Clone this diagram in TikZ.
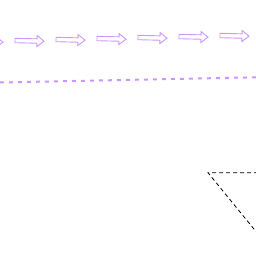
\documentclass[tikz,border=0pt]{standalone}
\definecolor{lav}{RGB}{204,150,255}
\begin{document}
\begin{tikzpicture}[x=1pt,y=-1pt,
  hollowarrow/.style={draw=lav,line width=0.9pt,line join=miter},
  lavdash/.style={draw=lav,line width=2pt,dash pattern=on 4pt off 5pt},
  blackdash/.style={draw=black,line width=0.8pt,dash pattern=on 4pt off 3pt}]
\useasboundingbox (0,0) rectangle (256,256);
\clip (0,0) rectangle (256,256);
\foreach \k in {0,...,6}{
  \begin{scope}[shift={(-26+41*\k,41.5-\k)},rotate=-1.4]
    \draw[hollowarrow] (0,-2.2) -- (22,-2.2) -- (22,-5.5) -- (29,0) -- (22,5.5) -- (22,2.2) -- (0,2.2) -- cycle;
  \end{scope}
}
\coordinate (dl) at (0,82.5);
\coordinate (dr) at (256,77.3);
\draw[lavdash] (dl) -- (dr);
\coordinate (c) at (208,172.7);
\coordinate (h) at (258,172.7);
\coordinate (d) at (258,234);
\draw[blackdash] (h) -- (c) -- (d);
\end{tikzpicture}
\end{document}
